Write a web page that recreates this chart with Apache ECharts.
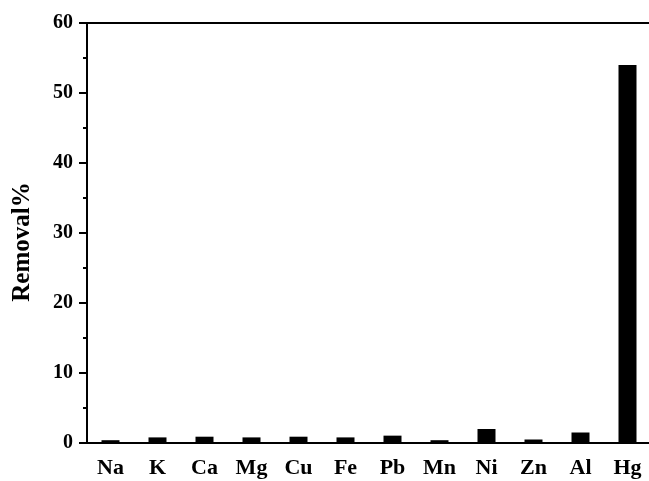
<!DOCTYPE html>
<html>
<head>
<meta charset="utf-8">
<script src="https://cdn.jsdelivr.net/npm/echarts@6/dist/echarts.min.js"></script>
<style>
  html, body { margin: 0; padding: 0; background: #fff; }
  #chart { width: 649px; height: 481px; }
</style>
</head>
<body>
<div id="chart"></div>
<script>
// metals and their removal percentages
var metals = ['Na', 'K', 'Ca', 'Mg', 'Cu', 'Fe', 'Pb', 'Mn', 'Ni', 'Zn', 'Al', 'Hg'];
var removal = [0.4, 0.8, 0.9, 0.8, 0.9, 0.8, 1.05, 0.4, 2.0, 0.5, 1.5, 54.0];
var yTicks = [0, 10, 20, 30, 40, 50, 60];

var font = 'Liberation Serif, Times New Roman, serif';
var myChart = echarts.init(document.getElementById('chart'));

var option = {
  animation: false,
  grid: {
    left: 87,
    top: 23,
    right: -2,
    bottom: 38,
    outerBoundsMode: 'none',
    show: true,
    borderColor: '#000',
    borderWidth: 2,
    backgroundColor: 'transparent'
  },
  xAxis: [
    {
      type: 'category',
      data: metals,
      axisLine: { lineStyle: { color: '#000', width: 2 } },
      axisTick: { alignWithLabel: true, length: 8, lineStyle: { color: '#000', width: 2 } },
      axisLabel: {
        color: '#000', fontFamily: font, fontWeight: 'bold', fontSize: 22, margin: 14
      }
    },
    {
      // short ticks at the category boundaries
      type: 'category',
      data: metals,
      position: 'bottom',
      axisLine: { show: false },
      axisTick: { length: 4, lineStyle: { color: '#000', width: 2 } },
      axisLabel: { show: false }
    }
  ],
  yAxis: {
    type: 'value',
    min: yTicks[0],
    max: yTicks[yTicks.length - 1],
    interval: 10,
    name: 'Removal%',
    nameLocation: 'middle',
    nameRotate: 90,
    nameGap: 52,
    nameTextStyle: {
      color: '#000', fontFamily: font, fontWeight: 'bold', fontSize: 25,
      padding: [0, 18, 0, 0]
    },
    axisLine: { show: true, lineStyle: { color: '#000', width: 2 } },
    axisTick: { show: true, length: 8, lineStyle: { color: '#000', width: 2 } },
    minorTick: { show: true, splitNumber: 2, length: 4, lineStyle: { color: '#000', width: 2 } },
    splitLine: { show: false },
    axisLabel: {
      color: '#000', fontFamily: font, fontWeight: 'bold', fontSize: 20, margin: 14
    }
  },
  series: [
    {
      type: 'bar',
      data: removal,
      barWidth: 18,
      itemStyle: { color: '#000' }
    }
  ]
};
myChart.setOption(option);
</script>
</body>
</html>
